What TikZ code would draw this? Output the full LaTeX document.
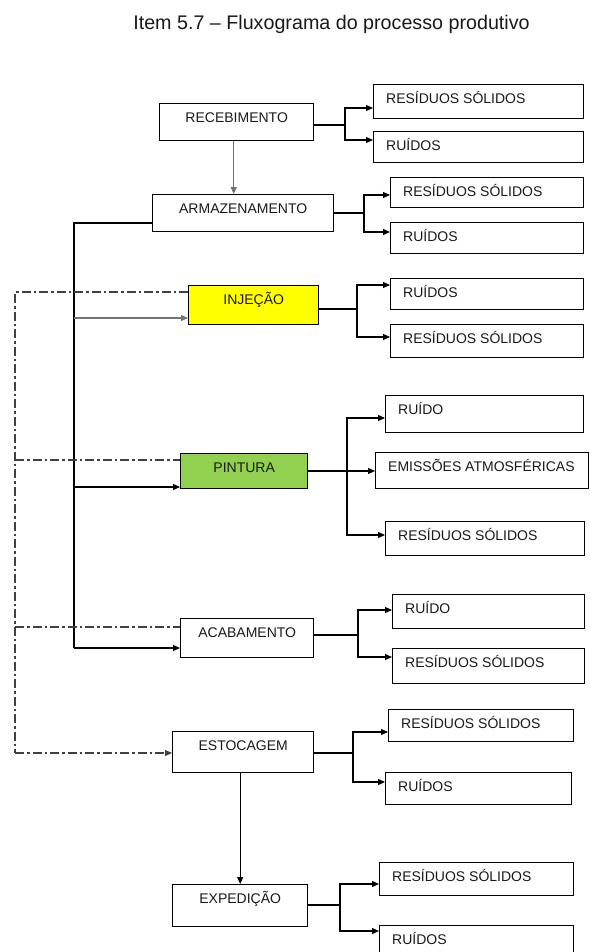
\documentclass[tikz,border=0pt]{standalone}
\usepackage{fontspec}
\setmainfont{Liberation Sans}
\usetikzlibrary{arrows.meta,calc}
\tikzset{
  box/.style={draw, line width=1.4pt, anchor=north west, inner sep=0pt, fill=white},
  lbl/.style={font=\fontsize{14}{16}\selectfont, inner sep=0pt, text=black!90},
  ln/.style={line width=1.2pt},
  arr/.style={ln, -{Triangle[length=7pt,width=6pt]}},
  dd/.style={line width=1.2pt, color=black!75, dash pattern=on 9pt off 3pt on 2.5pt off 3pt},
}
\definecolor{inj}{HTML}{FFFF00}
\definecolor{pin}{HTML}{92D050}
\newcommand\MainBox[7]{%
  \node[box, fill=#6, minimum width={(#4-#2)*1pt}, minimum height={(#5-#3)*1pt}] (#1) at (#2,#3) {};
  \node[lbl, anchor=base] (#1t) at ($(#1.north)+(0,19.5)$) {#7};
}
\newcommand\OutBox[6]{%
  \node[box, minimum width={(#4-#2)*1pt}, minimum height={(#5-#3)*1pt}] (#1) at (#2,#3) {};
  \node[lbl, anchor=base west] (#1t) at ($(#1.north west)+(13,19.5)$) {#6};
}
\newcommand\Fork[8]{%
  \coordinate (#1) at (#3,#4);
  \coordinate (#1a) at (#3,#6);
  \coordinate (#1b) at (#3,#8);
  \draw[ln] (#2.east |- #1) -- (#1);
  \draw[arr] (#1) |- (#5.west |- #1a);
  \draw[arr] (#1) |- (#7.west |- #1b);
}
\begin{document}
\begin{tikzpicture}[x=1pt,y=-1pt]
\useasboundingbox (0,0) rectangle (589,952);
\clip (0,0) rectangle (589,952);
\fill[white] (0,0) rectangle (589,952);

\node[font=\fontsize{19.7}{22}\selectfont, inner sep=0pt, anchor=base, text=black!90] (title) at (331.5,30) {Item 5.7 – Fluxograma do processo produtivo};

% main process boxes
\MainBox{rec}{159}{103}{313}{140}{white}{RECEBIMENTO}
\MainBox{arm}{152}{194}{333}{231}{white}{ARMAZENAMENTO}
\MainBox{inj}{188}{285}{318}{324}{inj}{INJEÇÃO}
\MainBox{pin}{180}{453}{307}{488}{pin}{PINTURA}
\MainBox{acab}{180}{618}{313}{657}{white}{ACABAMENTO}
\MainBox{esto}{172}{731}{313}{772}{white}{ESTOCAGEM}
\MainBox{exp}{172}{884}{307}{926}{white}{EXPEDIÇÃO}

% output boxes
\OutBox{rs1}{373}{84}{583}{118}{RESÍDUOS SÓLIDOS}
\OutBox{ru1}{373}{131}{583}{162}{RUÍDOS}
\OutBox{rs2}{390}{177}{583}{207}{RESÍDUOS SÓLIDOS}
\OutBox{ru2}{390}{222}{583}{253}{RUÍDOS}
\OutBox{ru3}{390}{278}{583}{309}{RUÍDOS}
\OutBox{rs3}{390}{324}{583}{357}{RESÍDUOS SÓLIDOS}
\OutBox{ru4}{385}{395}{583}{432}{RUÍDO}
\OutBox{em}{375}{452}{588}{488}{EMISSÕES ATMOSFÉRICAS}
\OutBox{rs4}{385}{521}{584}{555}{RESÍDUOS SÓLIDOS}
\OutBox{ru5}{392}{594}{584}{628}{RUÍDO}
\OutBox{rs5}{392}{648}{584}{683}{RESÍDUOS SÓLIDOS}
\OutBox{rs6}{388}{709}{573}{741}{RESÍDUOS SÓLIDOS}
\OutBox{ru6}{385}{772}{571}{804}{RUÍDOS}
\OutBox{rs7}{379}{862}{573}{895}{RESÍDUOS SÓLIDOS}
\OutBox{ru7}{379}{925}{573}{962}{RUÍDOS}

% vertical flow
\draw[arr, black!55] ([xshift=-3pt]rec.south) -- ([xshift=-3pt]rec.south |- arm.north);
\draw[arr] (exp.north |- esto.south) -- (exp.north);

% forks to outputs
\Fork{fa}{rec}{345}{125}{rs1}{108}{ru1}{140}
\Fork{fb}{arm}{364}{213}{rs2}{195}{ru2}{232}
\Fork{fc}{inj}{357}{309}{ru3}{285}{rs3}{337}
\Fork{fd}{pin}{347}{471}{ru4}{418}{rs4}{535}
\draw[arr] (fd) -- (em.west |- fd);
\Fork{fe}{acab}{358}{635}{ru5}{610}{rs5}{657}
\Fork{ff}{esto}{353}{753}{rs6}{732}{ru6}{782}
\Fork{fg}{exp}{340}{905}{rs7}{884}{ru7}{931}

% main left line
\coordinate (ml) at (74,223);
\coordinate (m1) at (74,318);
\coordinate (m2) at (74,487);
\coordinate (m3) at (74,648);
\draw[ln] (arm.west |- ml) -- (ml) -- (m3);
\draw[arr, black!55] (m1) -- (inj.west |- m1);
\draw[arr] (m2) -- (pin.west |- m2);
\draw[arr] (m3) -- (acab.west |- m3);

% dash-dot return line
\coordinate (d0) at (15,292);
\coordinate (d1) at (15,460);
\coordinate (d2) at (15,627);
\coordinate (d3) at (15,753);
\draw[dd] (inj.west |- d0) -- (d0) -- (d3);
\draw[dd] (d1) -- (pin.west |- d1);
\draw[dd] (d2) -- (acab.west |- d2);
\draw[dd, -{Triangle[length=7pt,width=6pt]}] (d3) -- (esto.west |- d3);
\end{tikzpicture}
\end{document}
